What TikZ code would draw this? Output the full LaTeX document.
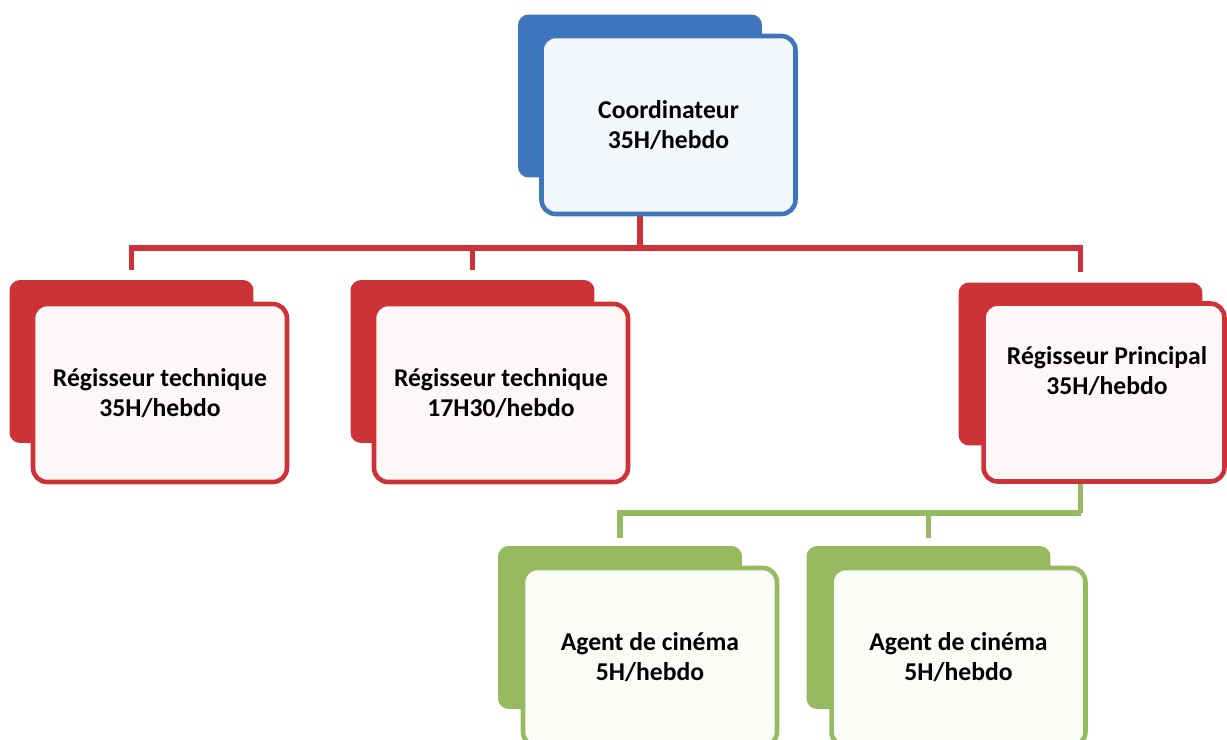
\documentclass[tikz,border=0pt]{standalone}
\usepackage{fontspec}
\setmainfont{Carlito}
\usepackage{xcolor}
\usepackage{tikz}
\usetikzlibrary{positioning}
\definecolor{cblue}{RGB}{62,118,190}
\definecolor{cred}{RGB}{204,50,56}
\definecolor{cgreen}{RGB}{150,186,96}

\begin{document}
\begin{tikzpicture}[x=0.02cm, y=-0.02cm,
      back/.style={rounded corners=6pt, minimum width=4.88cm, minimum height=3.26cm, inner sep=0pt},
      front/.style={rounded corners=8pt, line width=2.6pt, minimum width=5.08cm, minimum height=3.56cm,
                    align=center, inner sep=0pt, font=\bfseries\fontsize{14.6}{17.2}\selectfont},
      txt/.style={align=center, inner sep=0pt, font=\bfseries\fontsize{14.6}{17.2}\selectfont},
      redline/.style={draw=cred, line width=3.2pt, line join=miter},
      greenline/.style={draw=cgreen, line width=3.2pt, line join=miter}
    ]
    \useasboundingbox (0,0) rectangle (1227,740);
    % back plates
    \node[back, fill=cblue] (coordBack) at (640,96) {};
    \node[back, fill=cred] (tech1Back) at (131.5,361.5) {};
    \node[back, fill=cred] (tech2Back) at (472.5,361.5) {};
    \node[back, fill=cred] (princBack) at (1080.5,364) {};
    \node[back, fill=cgreen] (agent1Back) at (620,627.5) {};
    \node[back, fill=cgreen] (agent2Back) at (928.5,627.5) {};
    \coordinate (busR) at (0,248);
    \coordinate (busG) at (0,513);
    % connectors
    \draw[redline] (coordBack.south) -- (coordBack.south |- busR);
    \draw[redline] ([yshift=0.2cm]tech1Back.north) |- (coordBack.south |- busR) -| ([yshift=0.2cm]princBack.north);
    \draw[redline] (tech2Back.north |- busR) -- ([yshift=0.2cm]tech2Back.north);
    \draw[greenline] (princBack.south) -- (princBack.south |- busG);
    \draw[greenline] ([yshift=0.16cm]agent1Back.north) |- (princBack.south |- busG);
    \draw[greenline] (agent2Back.north |- busG) -- ([yshift=0.16cm]agent2Back.north);
    % front boxes
    \node[front, draw=cblue, fill=cblue!6] (coord) at (668.5,125) {Coordinateur\\35H/hebdo};
    \node[front, draw=cred, fill=cred!4] (tech1) at (160,393) {Régisseur technique\\35H/hebdo};
    \node[front, draw=cred, fill=cred!4] (tech2) at (501,393) {Régisseur technique\\17H30/hebdo};
    \node[front, draw=cred, fill=cred!4, minimum width=4.82cm] (princ) at (1104,392.5) {};
    \node[txt] (princTxt) at (1107,371) {Régisseur Principal\\35H/hebdo};
    \node[front, draw=cgreen, fill=cgreen!5] (agent1) at (650,657) {Agent de cinéma\\5H/hebdo};
    \node[front, draw=cgreen, fill=cgreen!5] (agent2) at (958.5,657) {Agent de cinéma\\5H/hebdo};
  \end{tikzpicture}
\end{document}
